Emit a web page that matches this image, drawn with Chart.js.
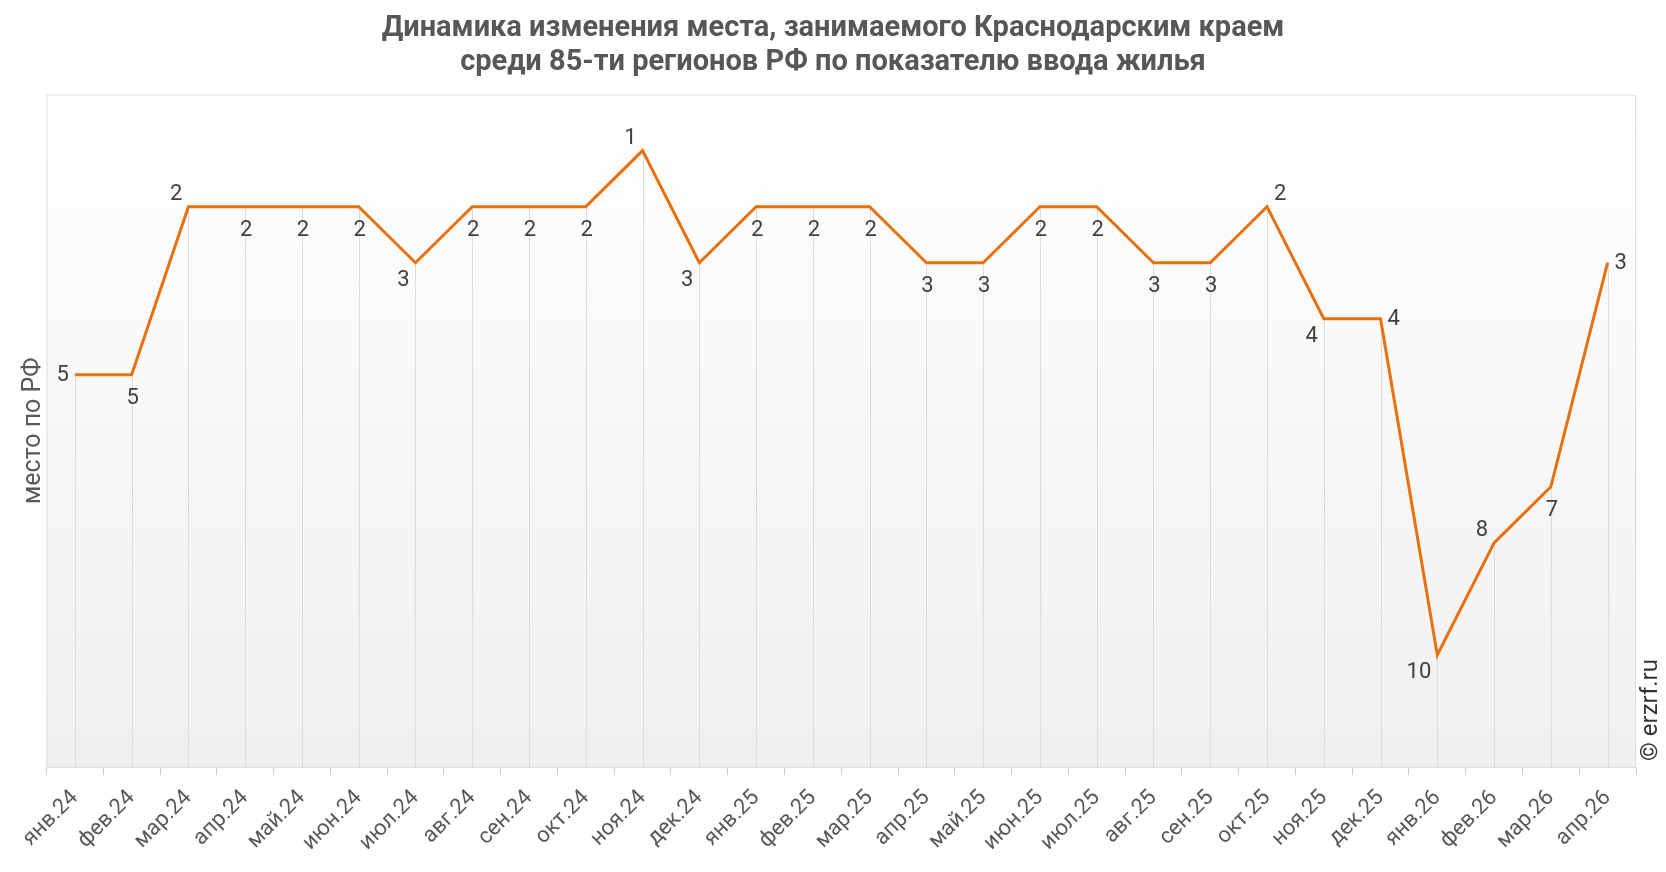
<!DOCTYPE html>
<html lang="ru">
<head>
<meta charset="utf-8">
<title>Динамика места Краснодарского края</title>
<script src="https://cdn.jsdelivr.net/npm/chart.js@4"></script>
<style>
  html, body { margin: 0; padding: 0; background: #fff; }
  #wrap { width: 1666px; height: 872px; position: relative; }
</style>
</head>
<body>
<div id="wrap"><canvas id="graficoMesto"></canvas></div>
<script>
// Данные

const labelsMesto = [
    "янв.24", "фев.24", "мар.24", "апр.24", "май.24", "июн.24", "июл.24",
    "авг.24", "сен.24", "окт.24", "ноя.24", "дек.24",
    "янв.25", "фев.25", "мар.25", "апр.25", "май.25", "июн.25", "июл.25",
    "авг.25", "сен.25", "окт.25", "ноя.25", "дек.25",
    "янв.26", "фев.26", "мар.26", "апр.26",
];
const valoresMesto = [
    5, 5, 2, 2, 2, 2, 3, 2, 2, 2, 1, 3,
    2, 2, 2, 3, 3, 2, 2, 3, 3, 2, 4, 4,
    10, 8, 7, 3,
];

// где стоит подпись относительно точки
const posicaoRotulos = [
    "left", "below", "above-left", "below", "below", "below", "below-left",
    "below", "below", "below", "above-left", "below-left",
    "below", "below", "below", "below", "below", "below", "below",
    "below", "below", "above-right", "below-left", "right",
    "below-left", "above-left", "below", "right",
];

const corLinha = "#e8700e";
const fonte = "Roboto, 'Noto Sans', sans-serif";

// фон области графика + рамка + линии от точек вниз
const fundoPlugin = {
    id: "fundo",
    beforeDatasetsDraw(chart) {
        const { ctx, chartArea: a } = chart;
        ctx.save();
        const g = ctx.createLinearGradient(0, a.top, 0, a.bottom);
        g.addColorStop(0, "#ffffff");
        g.addColorStop(1, "#f0f0f0");
        ctx.fillStyle = g;
        ctx.fillRect(a.left, a.top, a.right - a.left, a.bottom - a.top);
        ctx.strokeStyle = "#dedede";
        ctx.lineWidth = 1;
        ctx.strokeRect(a.left + 0.5, a.top + 0.5, a.right - a.left - 1, a.bottom - a.top);

        const meta = chart.getDatasetMeta(0);
        ctx.strokeStyle = "#dcdcdc";
        meta.data.forEach((p) => {
            ctx.beginPath();
            ctx.moveTo(Math.round(p.x) + 0.5, p.y);
            ctx.lineTo(Math.round(p.x) + 0.5, a.bottom);
            ctx.stroke();
        });
        ctx.restore();
    },
};

// подписи значений
const rotulosPlugin = {
    id: "rotulos",
    afterDatasetsDraw(chart) {
        const { ctx } = chart;
        const meta = chart.getDatasetMeta(0);
        const valores = chart.data.datasets[0].data;
        ctx.save();
        ctx.font = "22px " + fonte;
        ctx.fillStyle = "#404040";
        ctx.textBaseline = "middle";
        meta.data.forEach((p, i) => {
            const pos = posicaoRotulos[i];
            let x = p.x, y = p.y;
            if (pos === "left") { ctx.textAlign = "right"; x -= 6; y += 1; }
            else if (pos === "right") { ctx.textAlign = "left"; x += 7; y += 1; }
            else if (pos === "below") { ctx.textAlign = "center"; x += 1; y += 24; }
            else if (pos === "above-left") { ctx.textAlign = "right"; x -= 6; y -= 12; }
            else if (pos === "below-left") { ctx.textAlign = "right"; x -= 6; y += 18; }
            else if (pos === "above-right") { ctx.textAlign = "left"; x += 7; y -= 12; }
            ctx.fillText(String(valores[i]), x, y);
        });
        ctx.restore();
    },
};

// © справа
const copyPlugin = {
    id: "copy",
    afterDraw(chart) {
        const { ctx } = chart;
        ctx.save();
        ctx.translate(1651, 710);
        ctx.rotate(-Math.PI / 2);
        ctx.font = "24px " + fonte;
        ctx.fillStyle = "#333333";
        ctx.textAlign = "center";
        ctx.textBaseline = "middle";
        ctx.fillText("© erzrf.ru", 0, 0);
        ctx.restore();
    },
};

const dataMesto = {
    labels: labelsMesto,
    datasets: [
        {
            label: "место по РФ",
            borderColor: corLinha,
            backgroundColor: corLinha,
            borderWidth: 3,
            pointRadius: 0,
            tension: 0,
            data: valoresMesto,
        },
    ],
};

const configMesto = {
    type: "line",
    data: dataMesto,
    options: {
        maintainAspectRatio: false,
        responsive: true,
        animation: false,
        // симметричные поля, чтобы заголовок стоял по центру холста
        layout: { padding: { left: 30, right: 30, top: 0, bottom: 0 } },
        plugins: {
            legend: { display: false },
            tooltip: { enabled: false },
            title: {
                display: true,
                text: [
                    "Динамика изменения места, занимаемого Краснодарским краем",
                    "среди 85-ти регионов РФ по показателю ввода жилья",
                ],
                color: "#575757",
                font: { family: fonte, size: 29, weight: "bold", lineHeight: 1.2 },
                padding: { top: 11, bottom: 14 },
            },
        },
        scales: {
            x: {
                offset: true,
                grid: {
                    offset: true,
                    drawOnChartArea: false,
                    drawTicks: true,
                    tickLength: 8,
                    color: "#cccccc",
                },
                border: { color: "#cccccc", width: 1 },
                ticks: {
                    minRotation: 45,
                    maxRotation: 45,
                    autoSkip: false,
                    padding: 10,
                    color: "#595959",
                    font: { family: fonte, size: 22 },
                },
                afterFit(scale) { scale.height = 105; },
            },
            y: {
                reverse: true,
                min: 0,
                max: 12,
                grid: { display: false },
                border: { display: false },
                ticks: { display: false },
                title: {
                    display: true,
                    text: "место по РФ",
                    color: "#595959",
                    font: { family: fonte, size: 25 },
                    padding: { top: -11, bottom: 0 },
                },
                afterFit(scale) { scale.width = 16.5; },
            },
        },
    },
    plugins: [fundoPlugin, rotulosPlugin, copyPlugin],
};

var graficoMesto = new Chart(
    document.getElementById("graficoMesto"),
    configMesto
);
</script>
</body>
</html>
